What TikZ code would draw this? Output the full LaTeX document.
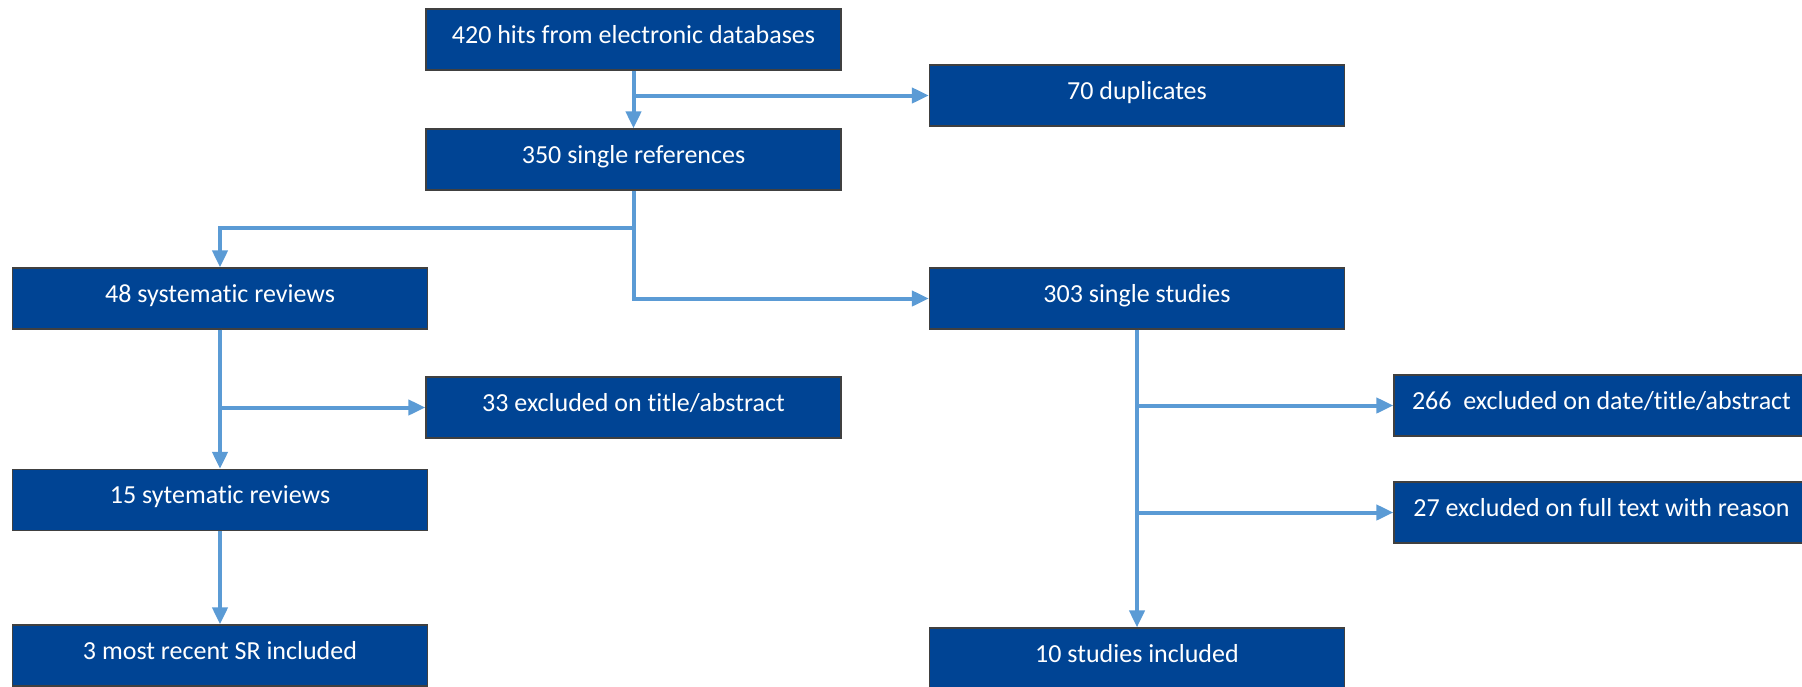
\documentclass[tikz,border=0pt]{standalone}
\usepackage{fontspec}
\setmainfont{Carlito}[Ligatures={NoCommon}]
\usetikzlibrary{arrows.meta}
\definecolor{boxblue}{RGB}{0,68,148}
\definecolor{arrowblue}{RGB}{91,155,213}

\begin{document}
\begin{tikzpicture}[x=0.5pt,y=-0.5pt,
    box/.style={draw=black!75,line width=0.6pt,fill=boxblue,text=white,
        minimum width=207.5pt,minimum height=30.5pt,inner xsep=0pt,inner ysep=0pt,
        text height=17pt,text depth=13.5pt,font=\fontsize{13}{15}\selectfont},
    flow/.style={draw=arrowblue,line width=2pt,-{Triangle[length=8.5pt,width=7.5pt]}}]
        \clip (0,0) rectangle (1802,686);
        % Search and duplicates
        \node[box] (hits) at (633.5,39.5) {420 hits from electronic databases};
        \node[box] (dupl) at (1137,95.5) {70 duplicates};
        \node[box] (singleref) at (633.5,159.5) {350 single references};
        % Left branch: systematic reviews
        \node[box] (sysrev) at (220,298.5) {48 systematic reviews};
        \node[box] (exclsr) at (633.5,407.5) {33 excluded on title/abstract};
        \node[box] (sysrevb) at (220,500) {15 sytematic reviews};
        \node[box] (srincl) at (220,655.5) {3 most recent SR included};
        % Right branch: single studies
        \node[box] (singlest) at (1137,298.5) {303 single studies};
        \node[box] (exclda) at (1601.5,405.5) {266\ \ excluded on date/title/abstract};
        \node[box] (exclft) at (1601.5,512.5) {27 excluded on full text with reason};
        \node[box] (stincl) at (1137,658.5) {10 studies included};
        \coordinate (split) at (633.5,228);
        % Arrows
        \draw[flow] (hits.south) -- (singleref.north);
        \draw[flow] (hits.south |- dupl.west) -- (dupl.west);
        \draw[flow] (singleref.south) -- (split) -| (sysrev.north);
        \draw[flow] (split) |- (singlest.west);
        \draw[flow] (sysrev.south) -- (sysrevb.north);
        \draw[flow] (sysrev.south |- exclsr.west) -- (exclsr.west);
        \draw[flow] (sysrevb.south) -- (srincl.north);
        \draw[flow] (singlest.south) -- (stincl.north);
        \draw[flow] (singlest.south |- exclda.west) -- (exclda.west);
        \draw[flow] (singlest.south |- exclft.west) -- (exclft.west);
\end{tikzpicture}
\end{document}
